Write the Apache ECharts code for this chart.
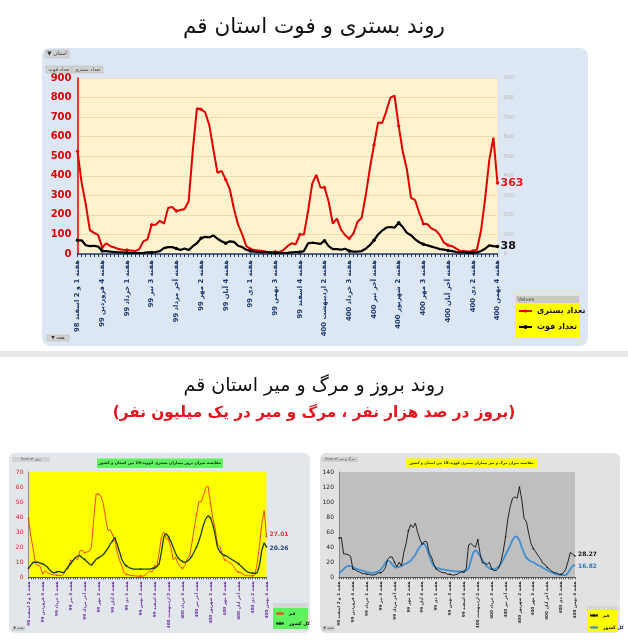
<!DOCTYPE html>
<html><head><meta charset="utf-8">
<script src="https://cdn.jsdelivr.net/npm/echarts/dist/echarts.min.js"></script>
<style>html,body{margin:0;padding:0;background:#fff}#c{width:628px;height:640px}</style>
</head><body><div id="c"></div><script>
// ---- categories (weekly) ----
const weekGroups = [
 ['اسفند','98',['1 و 2','3','4']],
 ['فروردین','99',['1','2','3','4']],
 ['اردیبهشت','99',['1','2','3','4','آخر']],
 ['خرداد','99',['1','2','3','4']],
 ['تیر','99',['1','2','3','4']],
 ['مرداد','99',['1','2','3','4','آخر']],
 ['شهریور','99',['1','2','3','4']],
 ['مهر','99',['1','2','3','4']],
 ['آبان','99',['1','2','3','4']],
 ['آذر','99',['1','2','3','4','آخر']],
 ['دی','99',['1','2','3','4']],
 ['بهمن','99',['1','2','3','4','آخر']],
 ['اسفند','99',['1','2','3','4']],
 ['فروردین','400',['1','2','3','4']],
 ['اردیبهشت','400',['1','2','3','4','آخر']],
 ['خرداد','400',['1','2','3','4']],
 ['تیر','400',['1','2','3','4','آخر']],
 ['مرداد','400',['1','2','3','4']],
 ['شهریور','400',['1','2','3','4','آخر']],
 ['مهر','400',['1','2','3','4']],
 ['آبان','400',['1','2','3','4','آخر']],
 ['آذر','400',['1','2','3','4']],
 ['دی','400',['1','2','3','4']],
 ['بهمن','400',['1','2','3','4']]
];
const weeks = [];
weekGroups.forEach(g => g[2].forEach(w => weeks.push('هفته ' + w + ' ' + g[0] + ' ' + g[1])));

// ---- main chart: hospitalized / deaths (Qom) ----
const hospitalized = [525,365,255,122,108,98,33,55,40,33,25,22,20,18,15,25,65,75,150,150,170,155,235,240,220,225,230,270,530,745,740,725,660,535,415,425,380,330,230,150,100,40,25,20,18,15,12,10,12,10,20,40,55,50,100,100,220,360,405,340,340,267,155,181,125,96,79,104,164,185,300,437,557,673,670,731,800,810,655,523,432,287,275,210,155,152,130,121,96,58,45,40,27,15,15,12,15,22,120,284,480,595,363];
const deaths = [70,70,45,40,42,38,15,15,12,10,8,8,6,6,5,5,6,8,8,10,15,30,35,35,28,20,28,20,40,55,80,88,85,95,78,65,55,65,62,42,35,22,15,12,10,8,8,6,6,5,5,6,8,10,10,15,55,58,55,52,68,40,25,25,22,27,15,12,12,15,27,45,70,100,120,135,138,135,160,138,108,96,75,60,50,44,38,32,25,22,18,15,10,8,8,6,6,8,15,27,44,40,38];

// ---- bottom-left: incidence per 100k ----
const incQom = [39.2,27.2,19,9.1,8.1,7.3,2.5,4.1,3,2.5,1.9,1.6,1.5,1.3,1.1,1.9,4.9,5.6,11.2,11.2,12.7,11.6,17.5,17.9,16.4,16.8,17.2,20.1,39.6,55.6,55.2,54.1,49.3,39.9,31,31.7,28.4,24.6,17.2,11.2,7.5,3,1.9,1.5,1.3,1.1,0.9,0.7,0.9,0.7,1.5,3,4.1,3.7,7.5,7.5,16.4,26.9,30.2,25.4,25.4,19.9,11.6,13.5,9.3,7.2,5.9,7.8,12.2,13.8,22.4,32.6,41.6,50.2,50,54.6,59.7,60.4,48.9,39,32.2,21.4,20.5,15.7,11.6,11.3,9.7,9,7.2,4.3,3.4,3,2,1.1,1.1,0.9,1.1,1.6,9,21.2,35.8,44.4,27.01];
const incIran = [6,8,10,10,10,9.5,9,8,7,5,3.5,3,3.5,4,3.5,3,5,7,9,11,13,14,14.5,13,12,10.5,9,8,10,12,13,14,15,17,19,22,24,26.5,22,17,12,9,7.5,6.5,6,5.5,5.5,5.5,5.5,5.5,5.5,5.5,5.5,6,6,7,9,17,27,29,27,24,20,16,13,11.5,10.5,10,10.5,12,14,17,20,24,29,35,39,41,39.5,35,28,20,17,15.5,14.5,14,13,12,11,10,9,7.5,6,4.5,3.5,3,2.8,2.7,3,8,18,23,20.26];

// ---- bottom-right: mortality per million ----
const morQom = [52,53,31,31,30,28,11,10,8,7,5,5,4,4,3,3,4,6,6,8,12,24,27,27,20,14,20,15,33,45,62,70,66,72,60,50,44,48,47,32,27,17,11,9,7,6,6,4,4,3,3,4,6,7,7,12,43,45,42,40,50,31,19,19,17,20,11,9,9,12,21,35,54,78,94,105,107,105,120,103,78,74,58,45,38,34,29,25,19,17,13,11,8,6,6,4,4,6,11,21,33,31,28.27];
const morIran = [5,8,11,14,15,15,14,12,11,10,9,8,7,6.5,6,6,7,8,10,14,19,22,21,17,14,13,14,15,17,18,20,22,26,30,36,41,45,44,38,29,20,15,13,12,11,10.5,10,9.5,9,8.5,8,8,8,8,8,9,12,22,33,36,33,28,23,18,14,12,11,11,12,14,18,24,30,36,42,50,54,54,49,40,32,26,23,21,20,18,16,15,13,11,9.5,8,6.5,5,4,3.5,3,3,3,6,11,15,16.82];

const mainTicks = [0,100,200,300,400,500,600,700,800,900];

const F = 'DejaVu Sans';
const chart = echarts.init(document.getElementById('c'), null, {renderer:'canvas'});

function catAxis(gi, color, size, weight, lineColor){
  return {type:'category', gridIndex:gi, data:weeks, boundaryGap:false,
    axisLine:{show:true, lineStyle:{color:lineColor, width: gi===0?1.5:1}},
    axisTick:{show:true, interval:0, length: gi===0?3:2, lineStyle:{color:lineColor}},
    axisLabel:{interval:5, rotate:90, color:color, fontSize:size, fontWeight:weight, fontFamily:F, margin: gi===0?6:4},
    splitLine:{show:false}};
}

const option = {
  animation:false,
  backgroundColor:'#ffffff',
  textStyle:{fontFamily:F},
  title:[
    {text:'روند بستری و فوت استان قم', left:'center', top:11, textStyle:{fontFamily:F, fontSize:21.5, fontWeight:'normal', color:'#111'}},
    {text:'روند بروز و مرگ و میر استان قم', left:'center', top:372, textStyle:{fontFamily:F, fontSize:19, fontWeight:'normal', color:'#111'}},
    {text:'(بروز در صد هزار نفر ، مرگ و میر در یک میلیون نفر)', left:'center', top:401, textStyle:{fontFamily:F, fontSize:15.3, fontWeight:'bold', color:'#e3141c'}}
  ],
  grid:[
    {left:77.5, top:78, width:420, height:176, show:true, backgroundColor:'#fff2cc', borderWidth:0, outerBoundsMode:'none', containLabel:false},
    {left:28.5, top:472, width:238, height:105.3, show:true, backgroundColor:'#ffff00', borderWidth:0, outerBoundsMode:'none', containLabel:false},
    {left:339, top:472, width:236, height:105.3, show:true, backgroundColor:'#bfbfbf', borderWidth:0, outerBoundsMode:'none', containLabel:false}
  ],
  xAxis:[
    catAxis(0,'#1f3a6e',6.8,'bold','#1f3a6e'),
    catAxis(1,'#7030a0',4.2,'bold','#555'),
    catAxis(2,'#333333',4.2,'bold','#555')
  ],
  yAxis:[
    {type:'value', gridIndex:0, min:mainTicks[0], max:mainTicks[mainTicks.length-1], interval:100,
      axisLine:{show:true, lineStyle:{color:'#e00000', width:1.5}}, axisTick:{show:false},
      axisLabel:{color:'#e00000', fontSize:10, fontWeight:'bold', fontFamily:F, margin:6},
      splitLine:{show:true, lineStyle:{color:'#eddcb2', width:1}}},
    {type:'value', gridIndex:0, position:'right', min:0, max:900, interval:100,
      axisLine:{show:false}, axisTick:{show:false},
      axisLabel:{color:'#b8b8b8', fontSize:5.5, fontFamily:F, margin:6}, splitLine:{show:false}},
    {type:'value', gridIndex:1, min:0, max:70, interval:10,
      axisLine:{show:true, lineStyle:{color:'#777', width:0.8}}, axisTick:{show:false},
      axisLabel:{color:'#d42020', fontSize:6, fontFamily:F, margin:5}, splitLine:{show:false}},
    {type:'value', gridIndex:2, min:0, max:140, interval:20,
      axisLine:{show:true, lineStyle:{color:'#777', width:0.8}}, axisTick:{show:false},
      axisLabel:{color:'#222', fontSize:6, fontFamily:F, margin:5}, splitLine:{show:false}}
  ],
  legend:[
    {data:['تعداد بستری','تعداد فوت'], left:518, top:307, orient:'vertical', itemGap:8, itemWidth:13, itemHeight:5,
      textStyle:{fontFamily:F, fontSize:8, fontWeight:'bold', color:'#111'}, padding:0, selectedMode:false},
    {data:['قم','کل کشور'], left:275, top:611, orient:'vertical', itemGap:5, itemWidth:8, itemHeight:3,
      textStyle:{fontFamily:F, fontSize:4.5, fontWeight:'bold', color:'#111'}, padding:0, selectedMode:false},
    {data:['قم ','کل کشور '], left:589, top:613, orient:'vertical', itemGap:7, itemWidth:8, itemHeight:3,
      formatter: n => n.trim(),
      textStyle:{fontFamily:F, fontSize:4.5, fontWeight:'bold', color:'#111'}, padding:0, selectedMode:false}
  ],
  series:[
    {name:'تعداد بستری', type:'line', xAxisIndex:0, yAxisIndex:0, data:hospitalized, symbol:'diamond', symbolSize:4,
      itemStyle:{color:'#e00000'}, lineStyle:{color:'#e00000', width:2}, z:3,
      endLabel:{show:true, formatter:p=>p.value, color:'#e3141c', fontSize:11, fontWeight:'bold', fontFamily:F, distance:3}},
    {name:'تعداد فوت', type:'line', xAxisIndex:0, yAxisIndex:1, data:deaths, symbol:'circle', symbolSize:3.5,
      itemStyle:{color:'#000'}, lineStyle:{color:'#000', width:2.2}, z:4,
      endLabel:{show:true, formatter:p=>p.value, color:'#111', fontSize:11, fontWeight:'bold', fontFamily:F, distance:3}},
    {name:'قم', type:'line', xAxisIndex:1, yAxisIndex:2, data:incQom, symbol:'circle', symbolSize:1.8,
      itemStyle:{color:'#f04a1a'}, lineStyle:{color:'#f04a1a', width:1}, z:3,
      endLabel:{show:true, formatter:p=>p.value.toFixed(2), color:'#e03030', fontSize:6, fontWeight:'bold', fontFamily:F, distance:3, offset:[0,-2]}},
    {name:'کل کشور', type:'line', xAxisIndex:1, yAxisIndex:2, data:incIran, symbol:'circle', symbolSize:1.8,
      itemStyle:{color:'#1b3d1b'}, lineStyle:{color:'#1b3d1b', width:1.3}, z:4,
      endLabel:{show:true, formatter:p=>p.value.toFixed(2), color:'#1f3a6e', fontSize:6, fontWeight:'bold', fontFamily:F, distance:3, offset:[0,2]}},
    {name:'قم ', type:'line', xAxisIndex:2, yAxisIndex:3, data:morQom, symbol:'circle', symbolSize:1.6,
      itemStyle:{color:'#111'}, lineStyle:{color:'#111', width:0.9}, z:4,
      endLabel:{show:true, formatter:p=>p.value.toFixed(2), color:'#111', fontSize:6, fontWeight:'bold', fontFamily:F, distance:3, offset:[0,-2]}},
    {name:'کل کشور ', type:'line', xAxisIndex:2, yAxisIndex:3, data:morIran, showSymbol:false, symbol:'circle', symbolSize:2,
      itemStyle:{color:'#3f8fd2'}, lineStyle:{color:'#3f8fd2', width:1.8}, z:3,
      endLabel:{show:true, formatter:p=>p.value.toFixed(2), color:'#2e75b6', fontSize:6, fontWeight:'bold', fontFamily:F, distance:3, offset:[0,2]}}
  ],
  graphic:[
    // panels
    {type:'rect', z:-5, silent:true, shape:{x:42, y:48, width:546, height:298, r:8}, style:{fill:'#dde7f3'}},
    {type:'rect', z:-5, silent:true, shape:{x:0, y:351, width:628, height:6}, style:{fill:'#e9e9e9'}},
    {type:'rect', z:-5, silent:true, shape:{x:9, y:453, width:301, height:180, r:6}, style:{fill:'#e2e7ec'}},
    {type:'rect', z:-5, silent:true, shape:{x:320, y:453, width:300, height:180, r:6}, style:{fill:'#e2e2e2'}},
    // main panel buttons
    {type:'rect', z:5, silent:true, shape:{x:45, y:50, width:24, height:8, r:1}, style:{fill:'#d4d4d4', stroke:'#b0b0b0', lineWidth:0.5}},
    {type:'text', z:6, silent:true, style:{x:57, y:54, text:'▼ استان', fill:'#333', font:'5.5px DejaVu Sans', textAlign:'center', textVerticalAlign:'middle'}},
    {type:'rect', z:5, silent:true, shape:{x:46, y:66, width:26, height:7}, style:{fill:'#d4d4d4', stroke:'#b0b0b0', lineWidth:0.5}},
    {type:'text', z:6, silent:true, style:{x:59, y:69.5, text:'تعداد فوت', fill:'#333', font:'5px DejaVu Sans', textAlign:'center', textVerticalAlign:'middle'}},
    {type:'rect', z:5, silent:true, shape:{x:72, y:66, width:31, height:7}, style:{fill:'#d4d4d4', stroke:'#b0b0b0', lineWidth:0.5}},
    {type:'text', z:6, silent:true, style:{x:87.5, y:69.5, text:'تعداد بستری', fill:'#333', font:'5px DejaVu Sans', textAlign:'center', textVerticalAlign:'middle'}},
    {type:'rect', z:5, silent:true, shape:{x:47, y:335, width:22, height:6}, style:{fill:'#d4d4d4', stroke:'#b0b0b0', lineWidth:0.5}},
    {type:'text', z:6, silent:true, style:{x:58, y:338, text:'▼ هفته', fill:'#333', font:'4.5px DejaVu Sans', textAlign:'center', textVerticalAlign:'middle'}},
    // main legend box
    {type:'rect', z:1, silent:true, shape:{x:515, y:295, width:65, height:43}, style:{fill:'#ffff00'}},
    {type:'rect', z:2, silent:true, shape:{x:516, y:296, width:63, height:7}, style:{fill:'#c9c9c9'}},
    {type:'text', z:3, silent:true, style:{x:518, y:299.5, text:'Values', fill:'#444', font:'5px DejaVu Sans', textVerticalAlign:'middle'}},
    // bottom-left title & tags
    {type:'rect', z:5, silent:true, shape:{x:97, y:458.5, width:126, height:9.5}, style:{fill:'#5ef25e'}},
    {type:'text', z:6, silent:true, style:{x:160, y:463.3, text:'مقایسه میزان بروز بیماران بستری کووید-19 بین استان و کشور', fill:'#222', font:'bold 3.9px DejaVu Sans', textAlign:'center', textVerticalAlign:'middle'}},
    {type:'rect', z:5, silent:true, shape:{x:12, y:457, width:38, height:5}, style:{fill:'#cfd3d8'}},
    {type:'text', z:6, silent:true, style:{x:31, y:459.5, text:'Sum of بروز', fill:'#555', font:'3.6px DejaVu Sans', textAlign:'center', textVerticalAlign:'middle'}},
    {type:'rect', z:5, silent:true, shape:{x:12, y:626, width:13, height:5}, style:{fill:'#cfd3d8'}},
    {type:'text', z:6, silent:true, style:{x:18.5, y:628.5, text:'▼ هفته', fill:'#555', font:'3.5px DejaVu Sans', textAlign:'center', textVerticalAlign:'middle'}},
    {type:'rect', z:1, silent:true, shape:{x:273, y:603, width:35, height:5}, style:{fill:'#d6d6d6'}},
    {type:'rect', z:1, silent:true, shape:{x:273, y:608, width:35, height:21}, style:{fill:'#5ef25e'}},
    // bottom-right title & tags
    {type:'rect', z:5, silent:true, shape:{x:406, y:458.5, width:131, height:9.5}, style:{fill:'#ffff00'}},
    {type:'text', z:6, silent:true, style:{x:471.5, y:463.3, text:'مقایسه میزان مرگ و میر بیماران بستری کووید-19 بین استان و کشور', fill:'#222', font:'bold 3.6px DejaVu Sans', textAlign:'center', textVerticalAlign:'middle'}},
    {type:'rect', z:5, silent:true, shape:{x:322, y:457, width:36, height:5}, style:{fill:'#cfcfcf'}},
    {type:'text', z:6, silent:true, style:{x:340, y:459.5, text:'Sum of مرگ و میر', fill:'#555', font:'3.6px DejaVu Sans', textAlign:'center', textVerticalAlign:'middle'}},
    {type:'rect', z:5, silent:true, shape:{x:322, y:626, width:13, height:5}, style:{fill:'#cfcfcf'}},
    {type:'text', z:6, silent:true, style:{x:328.5, y:628.5, text:'▼ هفته', fill:'#555', font:'3.5px DejaVu Sans', textAlign:'center', textVerticalAlign:'middle'}},
    {type:'rect', z:1, silent:true, shape:{x:587, y:606, width:31, height:4}, style:{fill:'#d6d6d6'}},
    {type:'rect', z:1, silent:true, shape:{x:587, y:610, width:31, height:22}, style:{fill:'#ffff00'}}
  ]
};
chart.setOption(option);
</script></body></html>
